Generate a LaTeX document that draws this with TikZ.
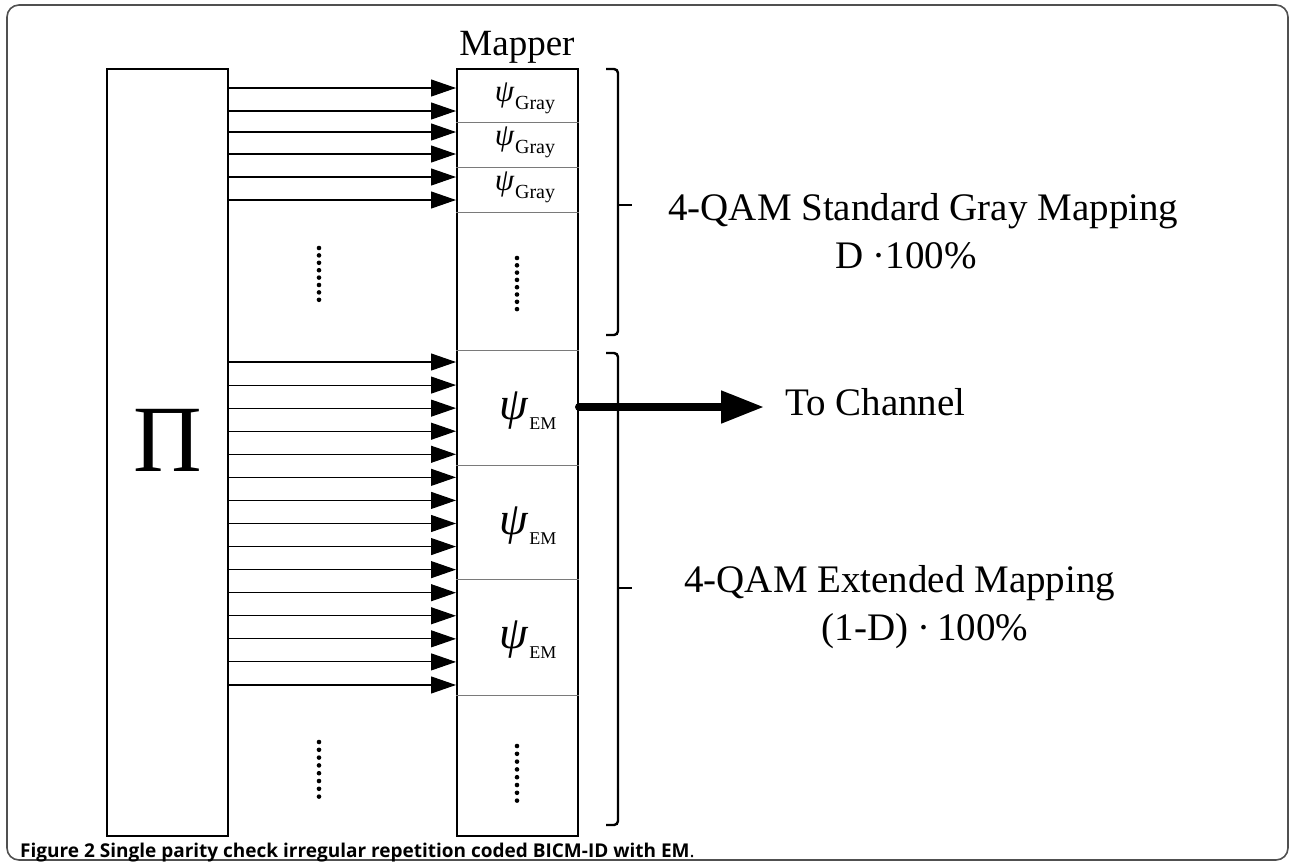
\documentclass[tikz,border=0pt]{standalone}
\usepackage{fontspec}
\setmainfont{Liberation Serif}
\newfontfamily\capfont{Open Sans}
\usetikzlibrary{arrows.meta}
\definecolor{Frame}{HTML}{505050}
\definecolor{Rule}{HTML}{7A7A7A}
\newcommand{\psigray}{{\fontsize{31}{31}\selectfont\itshape ψ}\kern1pt\raisebox{-8pt}{\fontsize{20}{20}\selectfont Gray}}
\newcommand{\psiem}{{\fontsize{46}{46}\selectfont\itshape ψ}\kern1pt\raisebox{-10pt}{\fontsize{18}{18}\selectfont EM}}

\begin{document}
\begin{tikzpicture}[x=1pt,y=-1pt,blk/.style={draw,line width=2pt,minimum width=121pt,minimum height=767pt,inner sep=0pt},feed/.style={-{Triangle[length=25pt,width=17pt]},line width=1.1pt},outarrow/.style={-{Triangle[length=43pt,width=31pt]},line width=8pt,line cap=round},divider/.style={draw=Rule,line width=1pt},brace/.style={line width=2.4pt,rounded corners=4pt},lbl/.style={font=\fontsize{39}{44}\selectfont,inner sep=0pt}]
\useasboundingbox (0,0) rectangle (1291,863);
\draw[Frame,line width=1.6pt,rounded corners=12pt] (7,5) rectangle (1288,860);
% interleaver and mapper columns
\node[blk] (pi) at (167.5,452.5) {};
\node[blk] (mapper) at (517.5,452.5) {};
\node[anchor=base,inner sep=0pt,font=\fontsize{95}{95}\selectfont] (pisym) at (168,471) {Π};
\node[anchor=base,inner sep=0pt,font=\fontsize{37}{40}\selectfont] (maptitle) at (517,55) {Mapper};
\foreach \y in {122,167,212,350,465,579,695} \draw[divider] (mapper.west |- 0,\y) -- (mapper.east |- 0,\y);
\node[anchor=base,inner sep=0pt] (g1) at (525,101) {\psigray};
\node[anchor=base,inner sep=0pt] (g2) at (525,145) {\psigray};
\node[anchor=base,inner sep=0pt] (g3) at (525,190) {\psigray};
\node[anchor=base,inner sep=0pt] (e1) at (528,419) {\psiem};
\node[anchor=base,inner sep=0pt] (e2) at (528,534) {\psiem};
\node[anchor=base,inner sep=0pt] (e3) at (528,648) {\psiem};
% bit streams into the mapper
\foreach \y in {88,111,132,154,177,200} \draw[feed] (pi.east |- 0,\y) -- (mapper.west |- 0,\y);
\foreach \k in {0,...,14} \draw[feed] (pi.east |- 0,362+23.07*\k) -- (mapper.west |- 0,362+23.07*\k);
% vertical ellipses
\foreach \k in {0,...,7} {
  \fill (319,248+7.4*\k) circle (2.3pt);
  \fill (517,258+7.3*\k) circle (2.3pt);
  \fill (319,742+7.8*\k) circle (2.3pt);
  \fill (517,746+7.8*\k) circle (2.3pt);
}
% braces and labels
\draw[brace] (606,69) -- (618,69) -- (618,335) -- (606,335);
\draw[line width=2.4pt] (618,205) -- (632,205);
\draw[brace] (606,353) -- (618,353) -- (618,825) -- (606,825);
\draw[line width=2.4pt] (618,588) -- (632,588);
\node[lbl,anchor=base west] (gray1) at (668,220) {4-QAM Standard Gray Mapping};
\node[lbl,anchor=base] (gray2) at (906,268) {D ·100\%};
\node[lbl,anchor=base west] (ext1) at (684,592) {4-QAM Extended Mapping};
\node[lbl,anchor=base] (ext2) at (925,640) {(1-D) ·\,100\%};
\node[lbl,anchor=base west] (chan) at (785,415) {To Channel};
\draw[outarrow,shorten >=21pt] (mapper.east |- 0,407) -- (chan.west |- 0,407);
\node[anchor=base west,inner sep=0pt,font=\capfont\fontsize{19}{22}\selectfont] (cap) at (20,857) {\textbf{Figure 2 Single parity check irregular repetition coded BICM-ID with EM}.};
\end{tikzpicture}
\end{document}
